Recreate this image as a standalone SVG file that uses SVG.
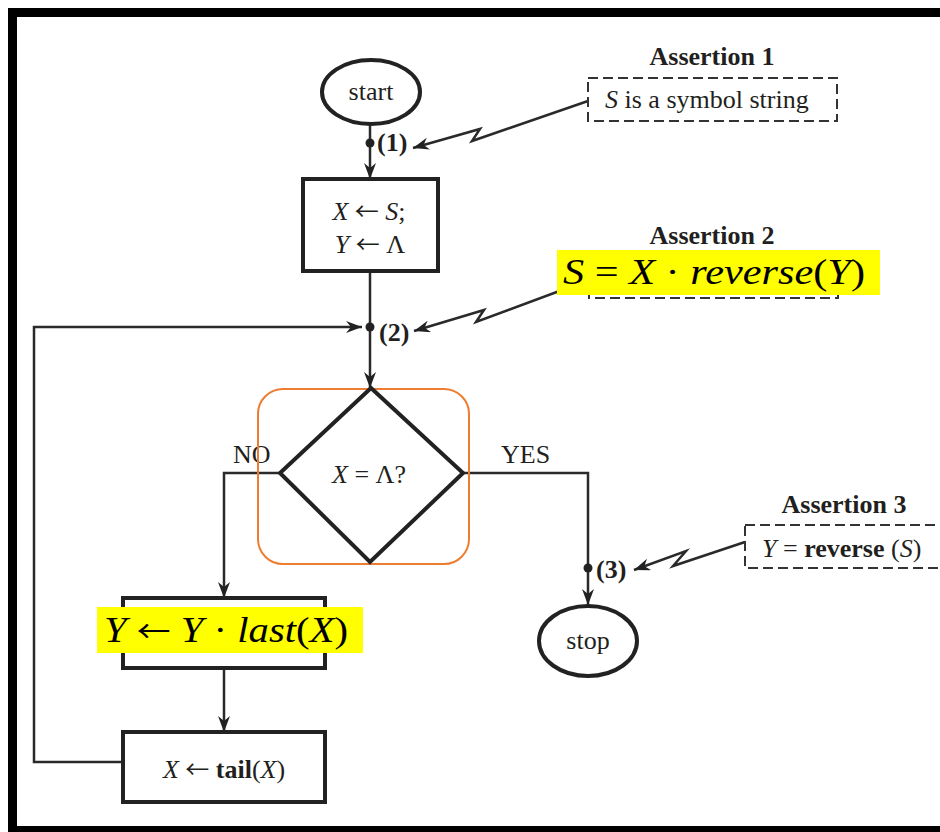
<svg xmlns="http://www.w3.org/2000/svg" width="940" height="832" viewBox="0 0 940 832">
<style>
.t{font-family:"Liberation Serif","Times New Roman",serif;fill:#231f20;font-size:26px}
.b{font-weight:bold}
.i{font-style:italic}
.a{font-family:"Noto Sans CJK SC","DejaVu Sans",sans-serif;font-size:24px}
.node{fill:#fff;stroke:#222;stroke-width:4}
.edge{fill:none;stroke:#2a2a2a;stroke-width:2.5}
.dash{fill:#fff;stroke:#333;stroke-width:2;stroke-dasharray:10 5}
.hl{fill:#ffff00}
.m{font-family:"Liberation Serif","Times New Roman",serif;fill:#000;font-size:36px}
</style>
<defs>
<marker id="arr" markerUnits="userSpaceOnUse" markerWidth="18" markerHeight="14" refX="16" refY="6" orient="auto">
<path d="M0,0 L16,6 L0,12 L5,6 Z" fill="#222"/>
</marker>
</defs>
<rect width="940" height="832" fill="#fff"/>
<rect x="12.5" y="12.5" width="940" height="818" fill="none" stroke="#000" stroke-width="9"/>

<g id="connectors">
<line class="edge" x1="370" y1="124" x2="370" y2="179" marker-end="url(#arr)"/>
<line class="edge" x1="370" y1="271" x2="370" y2="388" marker-end="url(#arr)"/>
<polyline class="edge" points="123,762 34,762 34,327 362,327" marker-end="url(#arr)"/>
<polyline class="edge" points="280,473 224,473 224,598" marker-end="url(#arr)"/>
<polyline class="edge" points="463,473 588,473 588,605" marker-end="url(#arr)"/>
<line class="edge" x1="224" y1="668" x2="224" y2="732" marker-end="url(#arr)"/>
<polyline class="edge" points="588,101 472,141 480,129 413,148" marker-end="url(#arr)"/>
<polyline class="edge" points="589,280 476,322 484,310 414,331" marker-end="url(#arr)"/>
<polyline class="edge" points="745,542 673,566 686,551 634,570" marker-end="url(#arr)"/>
<circle cx="370" cy="143" r="4.5" fill="#222"/>
<circle cx="370" cy="327" r="4.5" fill="#222"/>
<circle cx="588" cy="568" r="4.5" fill="#222"/>
<text class="t b" x="377" y="151" font-size="24">(1)</text>
<text class="t b" x="379" y="341" font-size="24">(2)</text>
<text class="t b" x="596" y="578" font-size="24">(3)</text>
<text class="t" x="233" y="463">NO</text>
<text class="t" x="501" y="463">YES</text>
</g>

<g id="start">
<ellipse class="node" cx="371" cy="92" rx="49" ry="32"/>
<text class="t" x="371" y="100" text-anchor="middle">start</text>
</g>

<g id="init">
<rect class="node" x="303" y="179" width="135" height="92"/>
<text class="t" x="369" y="220" text-anchor="middle"><tspan class="i">X</tspan> <tspan class="a">←</tspan> <tspan class="i">S</tspan>;</text>
<text class="t" x="370" y="253" text-anchor="middle"><tspan class="i">Y</tspan> <tspan class="a">←</tspan> Λ</text>
</g>

<g id="decision">
<rect x="258" y="389" width="211" height="175" rx="25" fill="none" stroke="#ed7d31" stroke-width="2"/>
<polygon class="node" points="371,388 463,473 370,562 280,473" fill="none"/>
<text class="t" x="369" y="483" text-anchor="middle"><tspan class="i">X</tspan> = Λ?</text>
</g>

<g id="append">
<rect class="node" x="123" y="598" width="202" height="70"/>
<rect class="hl" x="97" y="607" width="266" height="46"/>
<text class="m" x="104" y="642" textLength="244" lengthAdjust="spacingAndGlyphs"><tspan class="i">Y</tspan> <tspan font-family="Noto Sans CJK SC, DejaVu Sans, sans-serif" font-size="30">←</tspan> <tspan class="i">Y</tspan> · <tspan class="i">last</tspan>(<tspan class="i">X</tspan>)</text>
</g>

<g id="tail">
<rect class="node" x="123" y="732" width="202" height="70"/>
<text class="t" x="224" y="778" text-anchor="middle"><tspan class="i">X</tspan> <tspan class="a">←</tspan> <tspan class="b">tail</tspan>(<tspan class="i">X</tspan>)</text>
</g>

<g id="stop">
<ellipse class="node" cx="588" cy="641" rx="49" ry="35"/>
<text class="t" x="588" y="649" text-anchor="middle">stop</text>
</g>

<g id="assertion1">
<text class="t b" x="712" y="65" text-anchor="middle">Assertion 1</text>
<rect class="dash" x="588" y="78" width="249" height="43"/>
<text class="t" x="605" y="108"><tspan class="i">S</tspan> is a symbol string</text>
</g>

<g id="assertion2">
<text class="t b" x="712" y="244" text-anchor="middle">Assertion 2</text>
<rect class="dash" x="589" y="255" width="249" height="43"/>
<rect class="hl" x="557" y="250" width="323" height="45"/>
<text class="m" x="563" y="284" textLength="302" lengthAdjust="spacingAndGlyphs"><tspan class="i">S</tspan> = <tspan class="i">X</tspan> · <tspan class="i">reverse</tspan>(<tspan class="i">Y</tspan>)</text>
</g>

<g id="assertion3">
<text class="t b" x="844" y="513" text-anchor="middle">Assertion 3</text>
<rect class="dash" x="745" y="525" width="210" height="43"/>
<text class="t" x="762" y="557"><tspan class="i">Y</tspan> = <tspan class="b">reverse</tspan> (<tspan class="i">S</tspan>)</text>
</g>
</svg>
